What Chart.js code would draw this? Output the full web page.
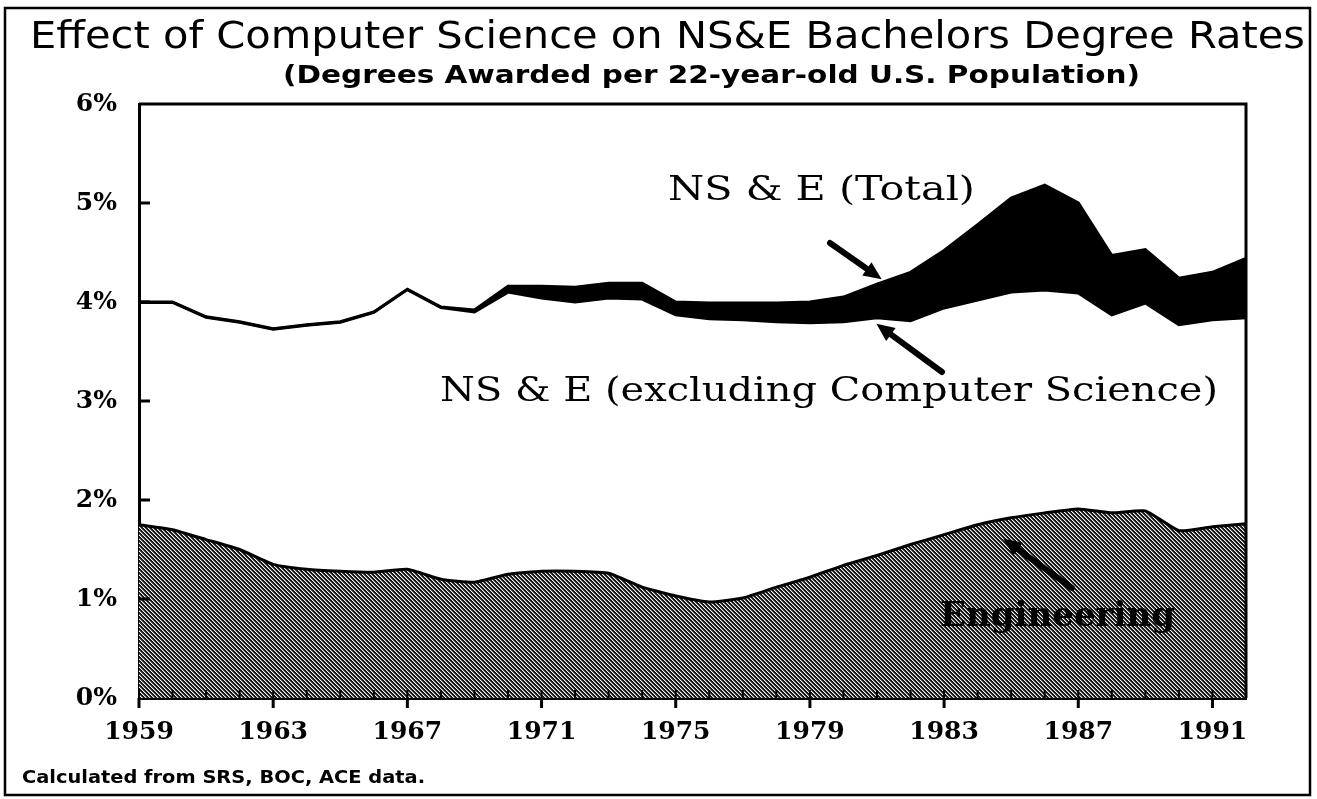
<!DOCTYPE html>
<html>
<head>
<meta charset="utf-8">
<title>Effect of Computer Science on NS&amp;E Bachelors Degree Rates</title>
<script src="https://cdn.jsdelivr.net/npm/chart.js@4.4.1/dist/chart.umd.min.js"></script>
<style>
  html, body { margin: 0; padding: 0; background: #fff; }
  #wrap { position: relative; width: 1317px; height: 799px; }
</style>
</head>
<body>
<div id="wrap"><canvas id="degreeChart" width="1317" height="799"></canvas></div>
<script>
// degrees per 22-year-old population, in percent
const years = [1959, 1960, 1961, 1962, 1963, 1964, 1965, 1966, 1967, 1968, 1969,
  1970, 1971, 1972, 1973, 1974, 1975, 1976, 1977, 1978, 1979, 1980,
  1981, 1982, 1983, 1984, 1985, 1986, 1987, 1988, 1989, 1990, 1991, 1992]
const nseTotal = [4.00, 4.00, 3.85, 3.80, 3.73, 3.77, 3.80, 3.90, 4.13, 3.95, 3.92,
  4.16, 4.16, 4.15, 4.19, 4.19, 4.00, 3.99, 3.99, 3.99, 4.00, 4.05,
  4.18, 4.30, 4.52, 4.78, 5.05, 5.18, 5.00, 4.47, 4.53, 4.24, 4.30, 4.44]
const nseExclCS = [3.995, 3.995, 3.845, 3.795, 3.725, 3.765, 3.795, 3.895, 4.125, 3.945, 3.90,
  4.10, 4.04, 4.00, 4.04, 4.03, 3.87, 3.83, 3.82, 3.80, 3.79, 3.80,
  3.84, 3.81, 3.94, 4.02, 4.10, 4.12, 4.09, 3.87, 3.99, 3.77, 3.82, 3.84]
const engineering = [1.75, 1.70, 1.60, 1.50, 1.35, 1.30, 1.28, 1.27, 1.30, 1.20, 1.17,
  1.25, 1.28, 1.28, 1.26, 1.12, 1.03, 0.97, 1.01, 1.12, 1.22, 1.34,
  1.44, 1.55, 1.65, 1.75, 1.82, 1.87, 1.91, 1.87, 1.89, 1.69, 1.73, 1.76]
const tickYears = [1959, 1963, 1967, 1971, 1975, 1979, 1983, 1987, 1991]

const serif = "'DejaVu Serif', serif"
const sans = "'DejaVu Sans', 'Liberation Sans', sans-serif"

// diagonal hatch used for the engineering area
function makeHatch() {
  const c = document.createElement("canvas")
  c.width = 4
  c.height = 4
  const g = c.getContext("2d")
  g.fillStyle = "#161616"
  g.fillRect(0, 0, 4, 4)
  for (let i = 0; i < 4; i++) {
    g.fillStyle = "#f4f4f4"
    g.fillRect(i, i, 1, 1)
    g.fillStyle = "#6e6e6e"
    g.fillRect((i + 1) % 4, i, 1, 1)
  }
  return g.createPattern(c, "repeat")
}

// draws text squeezed/stretched to an exact width
function fitText(ctx, text, x, y, width, font) {
  ctx.save()
  ctx.font = font
  ctx.textAlign = "left"
  ctx.textBaseline = "alphabetic"
  const w = ctx.measureText(text).width
  ctx.translate(x, y)
  ctx.scale(width / w, 1)
  ctx.fillText(text, 0, 0)
  ctx.restore()
}

function arrow(ctx, x1, y1, x2, y2) {
  const a = Math.atan2(y2 - y1, x2 - x1)
  ctx.save()
  ctx.strokeStyle = "#000"
  ctx.fillStyle = "#000"
  ctx.lineWidth = 6
  ctx.lineCap = "round"
  ctx.beginPath()
  ctx.moveTo(x1, y1)
  ctx.lineTo(x2 - 10 * Math.cos(a), y2 - 10 * Math.sin(a))
  ctx.stroke()
  ctx.translate(x2, y2)
  ctx.rotate(a)
  ctx.beginPath()
  ctx.moveTo(2, 0)
  ctx.lineTo(-16, -8)
  ctx.lineTo(-16, 8)
  ctx.closePath()
  ctx.fill()
  ctx.restore()
}

const decorations = {
  id: "decorations",
  afterDatasetsDraw(chart) {
    const { ctx, chartArea: area, scales } = chart
    const x = scales.x
    const y = scales.y
    ctx.save()
    ctx.strokeStyle = "#000"
    // frame top + right
    ctx.lineWidth = 3
    ctx.beginPath()
    ctx.moveTo(area.left, area.top)
    ctx.lineTo(area.right, area.top)
    ctx.lineTo(area.right, area.bottom)
    ctx.stroke()
    // y ticks, pointing inward
    for (let v = 1; v <= 5; v++) {
      const py = y.getPixelForValue(v)
      ctx.beginPath()
      ctx.moveTo(area.left, py)
      ctx.lineTo(area.left + 11, py)
      ctx.stroke()
    }
    // yearly minor ticks inward, labelled ticks outward
    ctx.lineWidth = 2
    years.forEach((yr) => {
      const px = x.getPixelForValue(yr)
      ctx.beginPath()
      ctx.moveTo(px, area.bottom)
      ctx.lineTo(px, area.bottom - 8)
      ctx.stroke()
    })
    ctx.lineWidth = 3
    tickYears.forEach((yr) => {
      const px = x.getPixelForValue(yr)
      ctx.beginPath()
      ctx.moveTo(px, area.bottom)
      ctx.lineTo(px, area.bottom + 10)
      ctx.stroke()
    })

    // annotations
    ctx.fillStyle = "#000"
    fitText(ctx, "NS & E (Total)", 668, 200, 307, "33px " + serif)
    fitText(ctx, "NS & E (excluding Computer Science)", 440, 401, 778, "33px " + serif)
    fitText(ctx, "Engineering", 940, 626, 235, "bold 33px " + serif)
    arrow(ctx, 830, 243, 880, 278)
    arrow(ctx, 942, 372, 878, 325)
    arrow(ctx, 1072, 588, 1005, 540)

    // titles and source note
    fitText(ctx, "Effect of Computer Science on NS&E Bachelors Degree Rates", 30, 48, 1275, "37px " + sans)
    fitText(ctx, "(Degrees Awarded per 22-year-old U.S. Population)", 283, 83, 857, "bold 25px " + sans)
    fitText(ctx, "Calculated from SRS, BOC, ACE data.", 22, 783, 403, "bold 18px " + sans)

    // outer box
    ctx.lineWidth = 2.5
    ctx.strokeRect(5, 8, 1305, 787)
    ctx.restore()
  },
}

Chart.defaults.color = "#000"

const ctx = document.getElementById("degreeChart").getContext("2d")
const hatch = makeHatch()

new Chart(ctx, {
  type: "line",
  data: {
    labels: years,
    datasets: [
      {
        label: "NS & E (Total)",
        data: years.map((yr, i) => ({ x: yr, y: nseTotal[i] })),
        borderColor: "#000",
        borderWidth: 3,
        backgroundColor: "#000",
        fill: "+1",
        pointRadius: 0,
        tension: 0,
      },
      {
        label: "NS & E (excluding Computer Science)",
        data: years.map((yr, i) => ({ x: yr, y: nseExclCS[i] })),
        borderColor: "#000",
        borderWidth: 3,
        fill: false,
        pointRadius: 0,
        tension: 0,
      },
      {
        label: "Engineering",
        data: years.map((yr, i) => ({ x: yr, y: engineering[i] })),
        borderColor: "#000",
        borderWidth: 3,
        backgroundColor: hatch,
        fill: "origin",
        pointRadius: 0,
        tension: 0.15,
      },
    ],
  },
  options: {
    responsive: false,
    animation: false,
    layout: { padding: { top: 104, right: 71, left: 0, bottom: 0 } },
    plugins: {
      legend: { display: false },
      title: { display: false },
      tooltip: { enabled: false },
    },
    scales: {
      x: {
        type: "linear",
        min: 1959,
        max: 1992,
        afterBuildTicks: (scale) => {
          scale.ticks = tickYears.map((v) => ({ value: v }))
        },
        afterFit: (scale) => {
          scale.height = 101
        },
        grid: { display: false, drawTicks: false },
        border: { display: true, color: "#000", width: 3 },
        ticks: {
          padding: 19,
          maxRotation: 0,
          autoSkip: false,
          font: { family: serif, weight: "bold", size: 25 },
          callback: (v) => String(v),
        },
      },
      y: {
        min: 0,
        max: 6,
        afterFit: (scale) => {
          scale.width = 139
        },
        grid: { display: false, drawTicks: false },
        border: { display: true, color: "#000", width: 3 },
        ticks: {
          stepSize: 1,
          padding: 22,
          font: { family: serif, weight: "bold", size: 25 },
          callback: (v) => v + "%",
        },
      },
    },
  },
  plugins: [decorations],
})
</script>
</body>
</html>
